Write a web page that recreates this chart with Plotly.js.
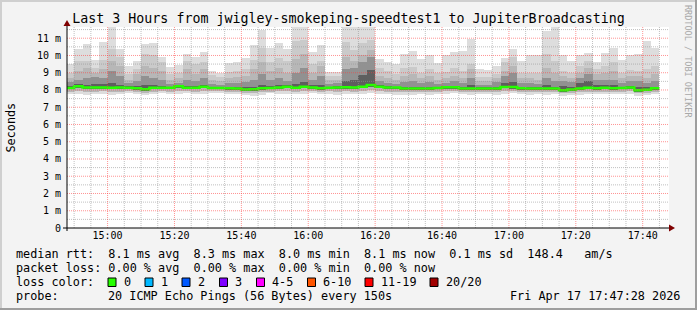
<!DOCTYPE html>
<html><head><meta charset="utf-8">
<script src="https://cdn.plot.ly/plotly-3.0.1.min.js"></script>
<style>html,body{margin:0;padding:0;background:#f3f3f3;overflow:hidden}#chart{width:697px;height:310px}</style>
</head><body><div id="chart"></div>
<script>
// ---- data (150 s steps, 20 pings each, values in ms) ----
const stepStart = Date.UTC(2026, 3, 17, 14, 47, 30);
const stepMs = 150000;
const rangeStart = Date.UTC(2026, 3, 17, 14, 47, 52);
const rangeEnd = Date.UTC(2026, 3, 17, 17, 47, 52);

const median = [8.12,8.21,8.15,8.14,8.15,8.13,8.15,8.13,8.10,8.04,8.13,8.13,8.13,8.21,8.13,8.13,8.19,8.12,8.12,8.10,
  8.08,8.03,8.04,8.10,8.11,8.15,8.18,8.13,8.19,8.15,8.10,8.13,8.15,8.16,8.14,8.18,8.29,8.18,8.14,8.14,
  8.08,8.08,8.08,8.08,8.12,8.16,8.16,8.08,8.08,8.08,8.08,8.08,8.17,8.17,8.10,8.08,8.08,8.08,8.08,7.99,
  8.03,8.08,8.13,8.10,8.13,8.10,8.11,8.14,7.99,8.02,8.10];
const pingMax = [9.53,10.4,10.69,9.76,10.8,11.8,10.4,9.4,9.69,10.65,10.75,9.92,9.35,9.42,10.08,9.92,10.2,9.1,9.0,9.57,
  9.63,9.86,10.6,11.45,10.45,10.72,10.4,11.8,11.8,10.22,10.6,9.05,9.05,11.8,11.8,11.8,11.8,9.82,9.65,9.53,
  10.09,10.28,9.82,10.03,9.57,10.0,10.2,10.28,10.98,9.24,9.18,9.41,9.88,10.4,9.7,10.0,10.0,11.44,11.8,10.0,
  9.7,10.0,10.15,9.63,10.15,10.46,9.76,10.05,10.1,10.86,10.45];
const ping19 = [9.0,9.7,9.7,9.3,9.75,10.4,9.9,8.9,9.2,10.1,10.0,9.6,8.9,9.0,9.7,9.5,9.6,8.85,8.75,9.05,
  9.1,9.2,9.75,10.45,9.65,9.85,9.7,10.85,10.9,9.5,9.7,8.8,8.8,10.8,10.3,10.7,10.9,9.3,9.1,8.95,
  9.3,9.35,9.0,9.2,9.0,9.05,9.3,9.1,9.5,8.75,8.75,8.95,9.6,9.9,9.0,9.0,9.0,10.1,9.7,9.1,
  9.0,9.4,9.7,9.2,9.4,9.6,9.0,9.15,9.1,9.2,9.4];
const ping18 = [8.7,9.1,9.3,9.0,9.2,9.7,9.4,8.6,8.9,9.4,9.3,9.1,8.6,8.7,9.2,8.9,9.2,8.6,8.5,8.7,
  8.75,8.8,9.2,9.6,9.1,9.3,9.0,9.8,10.1,9.0,9.4,8.55,8.6,9.9,9.7,10.0,10.3,8.8,8.7,8.6,
  8.8,8.9,8.7,8.8,8.6,8.7,8.8,8.7,9.2,8.5,8.5,8.7,9.1,9.4,8.7,8.7,8.6,9.3,9.0,8.8,
  8.7,9.0,9.3,8.9,9.0,9.1,8.7,8.8,8.8,8.7,8.9];
const ping16 = [8.45,8.6,8.7,8.75,8.7,9.1,8.8,8.4,8.5,8.8,8.7,8.6,8.35,8.4,8.6,8.5,8.7,8.35,8.3,8.4,
  8.4,8.45,8.6,8.9,8.6,8.7,8.5,9.0,9.3,8.6,8.8,8.35,8.4,9.2,9.3,9.6,9.9,8.5,8.4,8.35,
  8.45,8.5,8.4,8.45,8.35,8.4,8.5,8.4,8.7,8.3,8.3,8.45,8.8,9.0,8.4,8.4,8.35,8.7,8.5,8.5,
  8.45,8.7,8.9,8.6,8.6,8.6,8.4,8.5,8.5,8.4,8.5];
const ping13 = [8.25,8.35,8.3,8.35,8.35,8.4,8.3,8.25,8.25,8.3,8.3,8.25,8.2,8.3,8.25,8.25,8.3,8.2,8.2,8.2,
  8.2,8.15,8.2,8.3,8.25,8.3,8.3,8.35,8.45,8.3,8.3,8.2,8.25,8.5,8.6,8.85,9.15,8.3,8.25,8.2,
  8.2,8.2,8.2,8.2,8.2,8.25,8.25,8.2,8.3,8.15,8.15,8.2,8.4,8.45,8.2,8.2,8.15,8.3,8.2,8.25,
  8.2,8.4,8.5,8.3,8.3,8.3,8.2,8.25,8.2,8.15,8.2];
const pingMin = [7.78,7.75,7.72,7.75,7.78,7.7,7.76,7.8,7.75,7.72,7.78,7.8,7.78,7.75,7.8,7.78,7.76,7.8,7.8,7.78,
  7.75,7.7,7.68,7.72,7.8,7.78,7.76,7.75,7.78,7.8,7.76,7.78,7.72,7.76,7.75,7.78,7.8,7.78,7.74,7.72,
  7.7,7.72,7.74,7.72,7.76,7.78,7.8,7.75,7.72,7.74,7.76,7.72,7.78,7.8,7.74,7.72,7.74,7.7,7.74,7.66,
  7.7,7.72,7.76,7.74,7.78,7.74,7.76,7.78,7.66,7.7,7.74];
const ping3 = [7.9,7.92,7.88,7.9,7.92,7.88,7.9,7.92,7.9,7.85,7.9,7.92,7.9,7.94,7.92,7.9,7.92,7.92,7.92,7.9,
  7.88,7.84,7.84,7.88,7.9,7.92,7.94,7.9,7.94,7.92,7.9,7.92,7.9,7.92,7.9,7.94,8.0,7.94,7.9,7.9,
  7.86,7.86,7.88,7.86,7.9,7.92,7.94,7.88,7.86,7.88,7.88,7.86,7.92,7.94,7.88,7.86,7.88,7.86,7.88,7.8,
  7.84,7.86,7.9,7.88,7.9,7.88,7.9,7.92,7.8,7.84,7.88];
const ping8 = [8.04,8.12,8.06,8.05,8.07,8.04,8.06,8.05,8.02,7.96,8.05,8.05,8.05,8.12,8.05,8.04,8.1,8.04,8.04,8.02,
  8.0,7.95,7.96,8.02,8.03,8.07,8.1,8.05,8.1,8.07,8.02,8.05,8.06,8.08,8.06,8.1,8.2,8.1,8.06,8.05,
  8.0,8.0,8.0,8.0,8.04,8.08,8.08,8.0,8.0,8.0,8.0,8.0,8.09,8.08,8.02,8.0,8.0,8.0,8.0,7.91,
  7.95,8.0,8.05,8.02,8.05,8.02,8.03,8.06,7.91,7.94,8.02];

const yTickVals = [0,1,2,3,4,5,6,7,8,9,10,11];
const yTickText = ['0','1 m','2 m','3 m','4 m','5 m','6 m','7 m','8 m','9 m','10 m','11 m'];
const rttStats = ['8.1 ms avg','8.3 ms max','8.0 ms min','8.1 ms now','0.1 ms sd','148.4   am/s'];
const lossStats = ['0.00 % avg','0.00 % max','0.00 % min','0.00 % now'];
const lossLabels = ['0','1','2','3','4-5','6-10','11-19','20/20'];
const lossColors = ['#26ff00','#00b8ff','#0059ff','#7e00ff','#ff00ff','#ff5500','#ff0000','#a10000'];
const probeText = '20 ICMP Echo Pings (56 Bytes) every 150s';
const dateText = 'Fri Apr 17 17:47:28 2026';
const titleText = 'Last 3 Hours from jwigley-smokeping-speedtest1 to JupiterBroadcasting';

// ---- geometry ----
const W = 697, H = 310, ML = 67, MR = 28, MT = 27, MB = 82;
const PW = W - ML - MR, PH = H - MT - MB;
const px = x => (x - ML) / PW;
const py = y => (H - MB - y) / PH;
const nb = s => s.replace(/ /g, '\u00a0');
const MONO = 'DejaVu Sans Mono';

const times = median.map((_, i) => stepStart + i * stepMs);

const layers = [
  {lo: pingMin, hi: pingMax, color: '#dddddd'},
  {lo: ping3, hi: ping19, color: '#cacaca'},
  {lo: ping3, hi: ping18, color: '#b7b7b7'},
  {lo: ping8, hi: ping16, color: '#919191'},
  {lo: ping8, hi: ping13, color: '#5e5e5e'}
];
const traces = layers.map(l => ({
  type: 'bar', x: times, base: l.lo, y: l.hi.map((v, i) => v - l.lo[i]),
  width: stepMs, offset: 0, marker: {color: l.color, line: {width: 0}},
  hoverinfo: 'skip', showlegend: false
}));
traces.push({
  type: 'scatter', mode: 'lines',
  x: times.concat([times[times.length - 1] + stepMs]),
  y: median.concat([median[median.length - 1]]),
  line: {shape: 'hv', color: '#26ff00', width: 2.5},
  hoverinfo: 'skip', showlegend: false
});

// ---- grid (drawn above the smoke, like rrdtool) ----
const shapes = [];
const gridMinor = 'rgba(150,150,150,0.6)', gridMajor = 'rgba(255,60,60,0.55)';
const majors = [];
for (let t = Date.UTC(2026,3,17,14,50); t <= rangeEnd; t += 300000) {
  const isMajor = (t / 60000) % 20 === 0;
  const s = {type: 'line', layer: 'above', xref: 'x', yref: 'paper', x0: t, x1: t, y0: 0, y1: 1,
    line: {color: isMajor ? gridMajor : gridMinor, width: 1, dash: '1px,1px'}};
  (isMajor ? majors : shapes).push(s);
}
for (let v = 0.5; v <= 11.5; v += 0.5) {
  const isMajor = Math.abs(v - Math.round(v)) < 1e-9;
  const s = {type: 'line', layer: 'above', xref: 'paper', yref: 'y', x0: 0, x1: px(668), y0: v, y1: v,
    line: {color: isMajor ? gridMajor : gridMinor, width: 1, dash: '1px,1px'}};
  (isMajor ? majors : shapes).push(s);
}
shapes.push(...majors);
// axes with arrows
shapes.push({type: 'line', layer: 'above', xref: 'paper', yref: 'paper', x0: px(63), x1: px(670), y0: py(228), y1: py(228), line: {color: '#000', width: 1}});
shapes.push({type: 'line', layer: 'above', xref: 'paper', yref: 'paper', x0: px(67), x1: px(67), y0: py(231), y1: py(24), line: {color: '#000', width: 1}});
shapes.push({type: 'path', layer: 'above', xref: 'paper', yref: 'paper',
  path: `M ${px(669)} ${py(224.5)} L ${px(675)} ${py(228)} L ${px(669)} ${py(231.5)} Z`, fillcolor: '#7f0000', line: {width: 0}});
shapes.push({type: 'path', layer: 'above', xref: 'paper', yref: 'paper',
  path: `M ${px(63.5)} ${py(26)} L ${px(67)} ${py(20)} L ${px(70.5)} ${py(26)} Z`, fillcolor: '#7f0000', line: {width: 0}});
// frame
shapes.push({type: 'rect', layer: 'below', xref: 'paper', yref: 'paper', x0: px(0), x1: px(2), y0: py(310), y1: py(0), fillcolor: '#cfcfcf', line: {width: 0}});
shapes.push({type: 'rect', layer: 'below', xref: 'paper', yref: 'paper', x0: px(0), x1: px(697), y0: py(2), y1: py(0), fillcolor: '#cfcfcf', line: {width: 0}});
shapes.push({type: 'rect', layer: 'below', xref: 'paper', yref: 'paper', x0: px(695), x1: px(697), y0: py(310), y1: py(0), fillcolor: '#9e9e9e', line: {width: 0}});
shapes.push({type: 'rect', layer: 'below', xref: 'paper', yref: 'paper', x0: px(0), x1: px(697), y0: py(310), y1: py(308), fillcolor: '#9e9e9e', line: {width: 0}});

// ---- text ----
const ann = [];
const txt = (x, y, s, opts = {}) => ann.push(Object.assign({
  xref: 'paper', yref: 'paper', x: px(x), y: py(y), text: nb(s), showarrow: false,
  xanchor: 'left', yanchor: 'middle', borderpad: 0,
  font: {family: MONO, size: 11.8, color: '#000'}
}, opts));
txt(15, 254, 'median rtt:  ' + rttStats.join('  '));
txt(15, 268, 'packet loss: ' + lossStats.join('  '));
txt(15, 282, 'loss color:');
const boxX = [108, 145, 182, 219.5, 256.5, 307.5, 365, 430];
lossLabels.forEach((lab, i) => {
  shapes.push({type: 'rect', layer: 'above', xref: 'paper', yref: 'paper',
    x0: px(boxX[i]), x1: px(boxX[i] + 8), y0: py(286.5), y1: py(278),
    fillcolor: lossColors[i], line: {color: '#000', width: 1}});
  txt(boxX[i] + 14.5, 282, lab);
});
txt(15, 296, 'probe:');
txt(107, 296, probeText);
txt(681, 296, dateText, {xanchor: 'right'});
txt(10, 127.5, 'Seconds', {xanchor: 'center', textangle: -90});
txt(688, 61, 'RRDTOOL / TOBI OETIKER', {xanchor: 'center', textangle: 90,
  font: {family: MONO, size: 8.5, color: '#a8a8a8'}});

const layout = {
  width: W, height: H,
  margin: {l: ML, r: MR, t: MT, b: MB, pad: 0},
  paper_bgcolor: '#f3f3f3', plot_bgcolor: '#ffffff',
  barmode: 'overlay', bargap: 0,
  showlegend: false,
  title: {text: titleText, font: {family: MONO, size: 13.3, color: '#000'},
    xref: 'container', x: 0.5, xanchor: 'center', yref: 'container', y: 1 - 18 / H, yanchor: 'middle'},
  xaxis: {type: 'date', range: [rangeStart, rangeEnd], tickformat: '%H:%M',
    tick0: Date.UTC(2026,3,17,15,0), dtick: 20 * 60000,
    showgrid: false, zeroline: false, showline: false, ticks: '', fixedrange: true,
    tickfont: {family: MONO, size: 10, color: '#000'}},
  yaxis: {range: [0, 11.65], tickvals: yTickVals, ticktext: yTickText,
    showgrid: false, zeroline: false, showline: false, ticks: '', fixedrange: true,
    ticklabelstandoff: 5,
    tickfont: {family: MONO, size: 10, color: '#000'}},
  shapes: shapes, annotations: ann
};
Plotly.newPlot('chart', traces, layout, {staticPlot: true, displayModeBar: false});
</script>
</body></html>
